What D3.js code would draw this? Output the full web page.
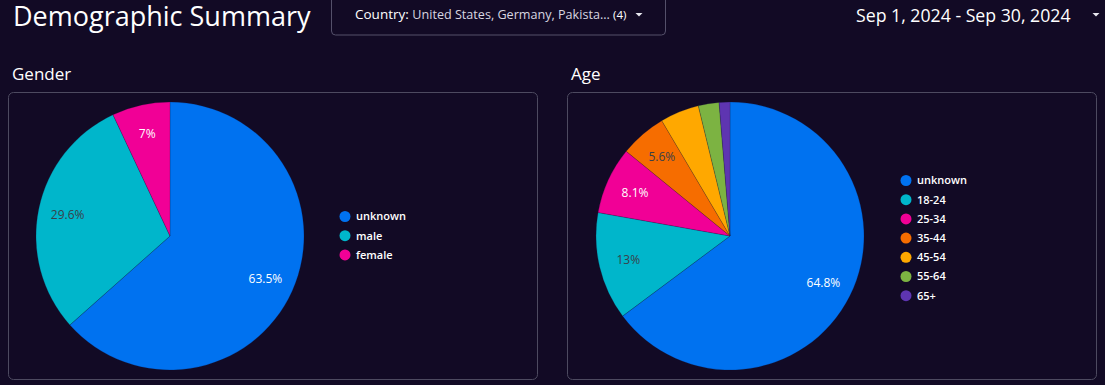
<!DOCTYPE html>
<html><head><meta charset="utf-8">
<script src="https://cdn.jsdelivr.net/npm/d3@7"></script>
<style>
html,body{margin:0;padding:0;background:#120a25;overflow:hidden;}
svg{display:block;}
</style></head>
<body>
<svg id="c" width="1105" height="385"></svg>
<script>
const genderCategories = ["unknown", "male", "female"];
const genderValues = [63.5, 29.6, 7.0];
const ageCategories = ["unknown", "18-24", "25-34", "35-44", "45-54", "55-64", "65+"];
const ageValues = [64.8, 13.0, 8.1, 5.6, 4.7, 2.5, 1.3];
const palette = ["#0072f0", "#00b6cb", "#f10096", "#f66d00", "#ffa800", "#7cb342", "#5e35b1"];
const labelInk = ["#ffffff", "#3a3f4a", "#ffffff", "#3a3f4a", "#3a3f4a", "#3a3f4a", "#ffffff"];

const svg = d3.select("#c");
const FONT = "'Open Sans', 'Noto Sans', sans-serif";

// header
svg.append("text").attr("x", 13).attr("y", 26).attr("fill", "#ffffff")
  .attr("font-family", FONT).attr("font-size", 27).text("Demographic Summary");

svg.append("rect").attr("x", 331.5).attr("y", -6).attr("width", 334).attr("height", 41)
  .attr("rx", 4).attr("fill", "none").attr("stroke", "#54506a").attr("stroke-width", 1);
const ct = svg.append("text").attr("x", 355).attr("y", 19).attr("font-family", FONT).attr("font-size", 13.5);
ct.append("tspan").attr("fill", "#ffffff").text("Country: ");
ct.append("tspan").attr("fill", "#d8d6e0").attr("font-size", 12.6).text("United States, Germany, Pakista... ");
ct.append("tspan").attr("fill", "#ffffff").attr("font-size", 11.5).text("(4)");
svg.append("path").attr("d", "M635.5,13 L642.5,13 L639,16.5 Z").attr("fill", "#e8e8f0");

svg.append("text").attr("x", 856).attr("y", 22).attr("fill", "#ffffff")
  .attr("font-family", FONT).attr("font-size", 17.7).text("Sep 1, 2024 - Sep 30, 2024");
svg.append("path").attr("d", "M1092.5,13 L1099.5,13 L1096,16.5 Z").attr("fill", "#e8e8f0");

function panel(x0, cx, title, cats, vals, legendX, legendY) {
  svg.append("text").attr("x", x0 + 4).attr("y", 80).attr("fill", "#ffffff")
    .attr("font-family", FONT).attr("font-size", 17).text(title);
  svg.append("rect").attr("x", x0 + 0.5).attr("y", 92.5).attr("width", 529).attr("height", 287)
    .attr("rx", 5).attr("fill", "none").attr("stroke", "#4d4a60").attr("stroke-width", 1);

  const cy = 236, R = 134;
  const color = d3.scaleOrdinal().domain(cats).range(palette);
  const ink = d3.scaleOrdinal().domain(cats).range(labelInk);
  const data = cats.map((c, i) => ({cat: c, value: vals[i]}));
  const total = d3.sum(vals);
  const pie = d3.pie().value(d => d.value).sort(null);
  const arcs = pie(data);
  const arc = d3.arc().innerRadius(0).outerRadius(R);
  const labelArc = d3.arc().innerRadius(R * 0.78).outerRadius(R * 0.78);
  const g = svg.append("g").attr("transform", `translate(${cx},${cy})`);
  g.selectAll("path").data(arcs).join("path")
    .attr("d", arc).attr("fill", d => color(d.data.cat))
    .attr("stroke", "rgba(20,20,60,0.35)").attr("stroke-width", 0.6);
  const fmt = d3.format(".1~f");
  g.selectAll("text").data(arcs.filter(d => d.data.value / total >= 0.05)).join("text")
    .attr("transform", d => `translate(${labelArc.centroid(d)})`)
    .attr("text-anchor", "middle").attr("dy", "0.35em")
    .attr("font-family", FONT).attr("font-size", 12)
    .attr("fill", d => ink(d.data.cat))
    .text(d => fmt(d.data.value) + "%");

  const y = d3.scalePoint().domain(cats).range([legendY, legendY + 19.2 * (cats.length - 1)]);
  const lg = svg.append("g");
  const items = lg.selectAll("g").data(cats).join("g")
    .attr("transform", d => `translate(${legendX},${y(d)})`);
  items.append("circle").attr("r", 5.5).attr("fill", d => color(d));
  items.append("text").attr("x", 11).attr("dy", "0.35em").attr("fill", "#ffffff")
    .attr("font-family", FONT).attr("font-size", 11).attr("font-weight", 600).text(d => d);
}

panel(8, 170, "Gender", genderCategories, genderValues, 345, 216.5);
panel(567, 730, "Age", ageCategories, ageValues, 906, 180.5);
</script>
</body></html>
